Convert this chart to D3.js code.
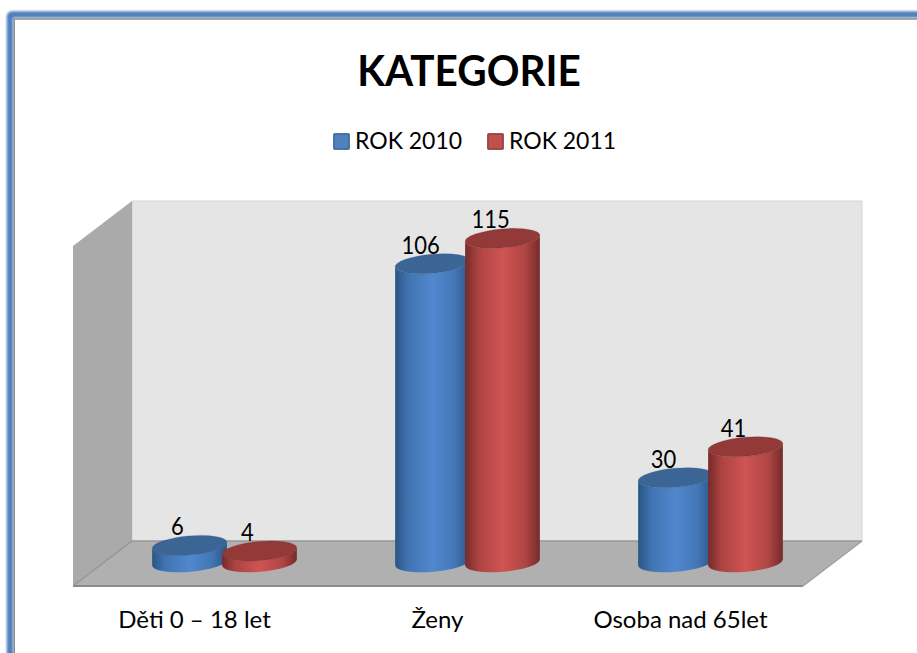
<!DOCTYPE html>
<html><head><meta charset="utf-8">
<script src="https://cdn.jsdelivr.net/npm/d3@7"></script>
<style>html,body{margin:0;padding:0;background:#fff;overflow:hidden}svg{display:block}text{font-family:Lato,"Open Sans",sans-serif;fill:#000}</style>
</head><body><svg id="c" width="917" height="653"></svg>
<script>
const categories = ["Děti 0 – 18 let", "Ženy", "Osoba nad 65let"];
const seriesNames = ["ROK 2010", "ROK 2011"];
const rok2010 = [6, 106, 30];
const rok2011 = [4, 115, 41];
const chartTitle = "KATEGORIE";

const W = 917, H = 653;
const svg = d3.select("#c");
const defs = svg.append("defs");

// frame
const blur = defs.append("filter").attr("id","glow").attr("x","-5%").attr("y","-5%").attr("width","110%").attr("height","110%");
blur.append("feGaussianBlur").attr("stdDeviation",1.3);
svg.append("rect").attr("x",10).attr("y",14.5).attr("width",W+40).attr("height",H+40).attr("rx",2)
  .attr("fill","none").attr("stroke","#4f81bd").attr("stroke-width",6.5).attr("filter","url(#glow)");
svg.append("rect").attr("x",14.25).attr("y",19).attr("width",W+40).attr("height",H+40)
  .attr("fill","#fff").attr("stroke","#8a8d8f").attr("stroke-width",1.5);

// scales
const floorY = 562.3;
const y = d3.scaleLinear().domain([0,120]).range([floorY, floorY-338]);
const groupCenters = d3.scalePoint().domain(categories).range([224.5, 710.5]);
const barW = 75, overlap = 5, rx = barW/2, ry = 9.5, tilt = -5;

// walls
const wL=73, wR=132, fR=803, bR=862, wallTop=201, wallBot=541, dy=45;
const poly = (pts,fill)=>svg.append("polygon").attr("points",pts.map(p=>p.join(",")).join(" ")).attr("fill",fill);
poly([[wR,wallTop],[bR,wallTop],[bR,wallBot],[wR,wallBot]],"#e5e5e5");
svg.append("path").attr("d",`M${wR},${wallBot}V${wallTop}H${bR}V${wallBot}`).attr("fill","none").attr("stroke","#d4d4d4").attr("stroke-width",1);
poly([[wL,wallTop+dy],[wR,wallTop],[wR,wallBot],[wL,wallBot+dy]],"#aaaaaa");
poly([[wL,wallBot+dy],[wR,wallBot],[bR,wallBot],[fR,wallBot+dy]],"#b0b0b0");
svg.append("path").attr("d",`M${wL},${wallBot+dy}H${fR}`).attr("stroke","#8c8c8c").attr("stroke-width",2).attr("fill","none");
svg.append("path").attr("d",`M${wL},${wallBot+dy}L${wR},${wallBot}H${bR}`).attr("stroke","#969696").attr("stroke-width",1.5).attr("fill","none");
svg.append("path").attr("d",`M${fR},${wallBot+dy}L${bR},${wallBot}`).attr("stroke","#a0a0a0").attr("stroke-width",1.5).attr("fill","none");

// gradients
const pal = [
 {id:"b", edge:"#2a5585", mid:"#5088cf", top:"#3b6594", legend:"#4f81bd"},
 {id:"r", edge:"#752b2a", mid:"#d05452", top:"#933938", legend:"#c0504d"}
];
pal.forEach(p=>{
  const g = defs.append("linearGradient").attr("id","g"+p.id).attr("x1",0).attr("x2",1).attr("y1",0).attr("y2",0);
  [[0,p.edge],[.18,d3.interpolateRgb(p.edge,p.mid)(.6)],[.5,p.mid],[.8,d3.interpolateRgb(p.edge,p.mid)(.65)],[1,p.edge]]
    .forEach(s=>g.append("stop").attr("offset",s[0]).attr("stop-color",s[1]));
});

// cylinders
const rad = tilt*Math.PI/180, ex = rx*Math.cos(rad), ey = rx*Math.sin(rad);
function cyl(cx, v, p){
  const yb = y(0), yt = y(v);
  const g = svg.append("g");
  g.append("path").attr("d",
    `M${cx-ex},${yt-ey}L${cx-ex},${yb-ey}A${rx},${ry} ${tilt} 0 0 ${cx+ex},${yb+ey}L${cx+ex},${yt+ey}A${rx},${ry} ${tilt} 0 1 ${cx-ex},${yt-ey}Z`)
    .attr("fill",`url(#g${p.id})`);
  g.append("ellipse").attr("cx",cx).attr("cy",yt).attr("rx",rx).attr("ry",ry)
    .attr("transform",`rotate(${tilt} ${cx} ${yt})`).attr("fill",p.top).attr("stroke",p.edge).attr("stroke-opacity",.25);
}
const labels = [];
categories.forEach((c,i)=>{
  const cx = groupCenters(c);
  [rok2010[i], rok2011[i]].forEach((v,s)=>{
    const bx = cx + (s===0 ? -(barW-overlap)/2 : (barW-overlap)/2);
    cyl(bx, v, pal[s]);
    labels.push({x:bx-12, y:y(v)-10, v});
  });
});
svg.selectAll("text.val").data(labels).join("text").attr("class","val")
  .attr("transform",d=>`translate(${d.x},${d.y}) scale(.88,1)`).attr("text-anchor","middle").attr("font-size",25).text(d=>d.v);

// category axis labels
svg.selectAll("text.cat").data(categories).join("text").attr("class","cat")
  .attr("x",d=>groupCenters(d)-30).attr("y",628).attr("text-anchor","middle").attr("font-size",24).attr("transform-origin","center").text(d=>d);

// title
svg.append("text").attr("transform","translate(469,86) scale(.965,1)").attr("text-anchor","middle").attr("font-size",42).attr("font-weight",700).text(chartTitle);

// legend
const lx = [333, 487];
seriesNames.forEach((n,i)=>{
  svg.append("rect").attr("x",lx[i]+.75).attr("y",133.75).attr("width",15.5).attr("height",15.5).attr("rx",1)
    .attr("fill",pal[i].legend).attr("stroke",pal[i].edge).attr("stroke-width",1.5).attr("stroke-opacity",.75);
  svg.append("text").attr("x",lx[i]+22).attr("y",149).attr("font-size",23).text(n);
});
</script></body></html>
